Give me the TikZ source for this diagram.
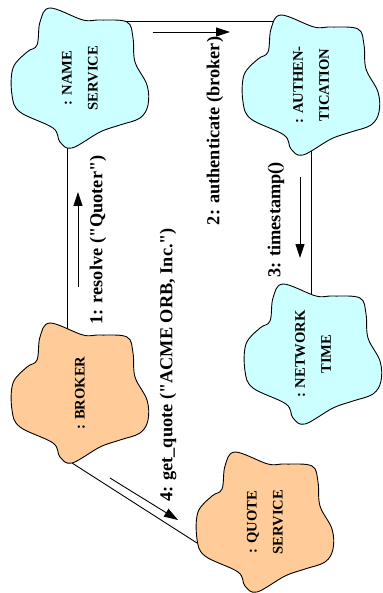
\documentclass[tikz,border=0pt]{standalone}
\usepackage{fontspec}
\setmainfont{Liberation Serif}[Ligatures=TeXOff]
\usetikzlibrary{arrows.meta,backgrounds}
\definecolor{objblue}{HTML}{CCFFFF}
\definecolor{objorange}{HTML}{FFCC99}
\tikzset{
  blob/.pic={
    \filldraw[fill=#1,line width=0.9pt] plot[smooth cycle,tension=0.6] coordinates {
      (-30,-70) (3,-58) (20,-58) (47,-56) (53,-40) (55,-16) (67,7) (68,27)
      (60,40) (40,47) (20,54) (-8,70) (-20,64) (-27,50) (-60,34) (-68,17)
      (-67,-10) (-53,-26) (-43,-33) (-40,-56)};
  }
}
\begin{document}
\begin{tikzpicture}
    [x=1pt,y=-1pt,
     obj/.style={rotate=90,align=center,font=\bfseries\fontsize{14.6}{26}\selectfont},
     lbl/.style={rotate=90,font=\bfseries\fontsize{18.3}{22}\selectfont},
     link/.style={line width=0.9pt},
     call/.style={-{Triangle[length=14pt,width=9pt]},line width=0.9pt}]
    \useasboundingbox (0,0) rectangle (382,593);
    % objects
    \pic at (80,78) {blob=objblue};
    \node [obj] (ns) at (80,78) {: NAME\\SERVICE};
    \pic at (311,85) {blob=objblue};
    \node [obj] (auth) at (311,85) {: AUTHEN-\\TICATION};
    \pic at (313,354) {blob=objblue};
    \node [obj] (nt) at (313,354) {: NETWORK\\TIME};
    \pic at (80,393) {blob=objorange};
    \node [obj] (broker) at (80,393) {: BROKER};
    \pic at (265,522) {blob=objorange};
    \node [obj] (quote) at (265,522) {: QUOTE\\SERVICE};
    % links
    \begin{scope}[on background layer]
      \draw [link] ([shift={(30,-57)}]ns.center) -- ([shift={(-30,-64)}]auth.center);
      \draw [link] ([xshift=-13]ns.center) -- ([xshift=-13]broker.center);
      \draw [link] (auth.center) -- (auth.center |- nt.center);
      \draw [link] ([shift={(-8,70)}]broker.center) -- ([shift={(-68,21)}]quote.center);
    \end{scope}
    % messages
    \node [lbl] (l1) at (98,240) {1: resolve ("Quoter")};
    \node [lbl] (l2) at (215,131) {2: authenticate (broker)};
    \node [lbl] (l3) at (276,220) {3: timestamp()};
    \node [lbl] (l4) at (168,365) {4: get\_quote ("ACME ORB, Inc.")};
    \coordinate (m1a) at (78,287);
    \coordinate (m1b) at (78,192);
    \coordinate (m2a) at (153,32);
    \coordinate (m2b) at (230,32);
    \coordinate (m3a) at (300,177);
    \coordinate (m3b) at (300,258);
    \coordinate (m4a) at (110,478);
    \coordinate (m4b) at (178,520);
    \draw [call] (m1a) -- (m1b);
    \draw [call] (m2a) -- (m2b);
    \draw [call] (m3a) -- (m3b);
    \draw [call] (m4a) -- (m4b);
  \end{tikzpicture}
\end{document}
